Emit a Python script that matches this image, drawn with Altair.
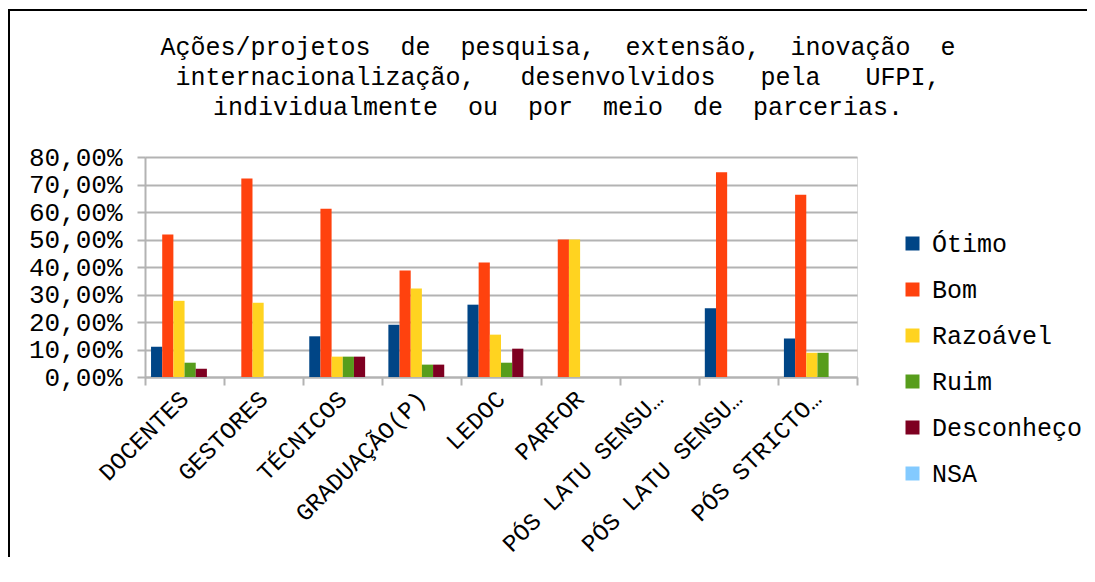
import altair as alt
import pandas as pd

categories = ["DOCENTES", "GESTORES", "TÉCNICOS", "GRADUAÇÃO(P)", "LEDOC", "PARFOR",
              "PÓS LATU SENSU (P)", "PÓS LATU SENSU (D)", "PÓS STRICTO SENSU"]
tick_labels = ["DOCENTES", "GESTORES", "TÉCNICOS", "GRADUAÇÃO(P)", "LEDOC", "PARFOR",
               "PÓS LATU SENSU…", "PÓS LATU SENSU…", "PÓS STRICTO…"]
series = ["Ótimo", "Bom", "Razoável", "Ruim", "Desconheço", "NSA"]
colors = ["#004586", "#ff420e", "#ffd320", "#579d1c", "#7e0021", "#83caff"]

otimo      = [11.0, 0.0, 14.8, 19.0, 26.3, 0.0, 0.0, 25.0, 14.0]
bom        = [51.8, 72.2, 61.2, 38.7, 41.6, 50.0, 0.0, 74.5, 66.3]
razoavel   = [27.7, 27.0, 7.4, 32.2, 15.4, 50.0, 0.0, 0.0, 8.8]
ruim       = [5.2, 0.0, 7.4, 4.5, 5.2, 0.0, 0.0, 0.0, 8.8]
desconheco = [3.0, 0.0, 7.4, 4.5, 10.3, 0.0, 0.0, 0.0, 0.0]
nsa        = [0.0, 0.0, 0.0, 0.0, 0.0, 0.0, 0.0, 0.0, 0.0]

NB = "\u00a0"
title_lines = [
    (NB * 2).join(["Ações/projetos", "de", "pesquisa,", "extensão,", "inovação", "e"]),
    (NB * 3).join(["internacionalização,", "desenvolvidos", "pela", "UFPI,"]),
    (NB * 2).join(["individualmente", "ou", "por", "meio", "de", "parcerias."]),
]

FONT = "Liberation Mono"
GRID = "#b3b3b3"

rows = []
for s, vals in zip(series, [otimo, bom, razoavel, ruim, desconheco, nsa]):
    for c, v in zip(categories, vals):
        if v > 0:
            rows.append({"cat": c, "serie": s, "val": v})
df = pd.DataFrame(rows)

label_expr = "datum.value"
for c, t in zip(categories, tick_labels):
    if c != t:
        label_expr = f"datum.value === '{c}' ? '{t}' : (" + label_expr + ")"

bars = alt.Chart(df).mark_bar().encode(
    x=alt.X("cat:N", sort=categories,
            scale=alt.Scale(domain=categories, paddingInner=0, paddingOuter=0),
            axis=alt.Axis(title=None, labelAngle=-45, labelAlign="right", labelBaseline="middle",
                          tickBand="extent", grid=False, labelFont=FONT, labelFontSize=24,
                          labelColor="#000000", labelPadding=10, labelExpr=label_expr,
                          labelLimit=400, domainColor=GRID, domainWidth=2, tickColor=GRID,
                          tickWidth=2, tickSize=8)),
    xOffset=alt.XOffset("serie:N", sort=series,
                        scale=alt.Scale(domain=series, paddingInner=0, paddingOuter=0.54)),
    y=alt.Y("val:Q", scale=alt.Scale(domain=[0, 80], nice=False),
            axis=alt.Axis(title=None, values=[0, 10, 20, 30, 40, 50, 60, 70, 80],
                          labelExpr="replace(format(datum.value, '.2f'), '.', ',') + '%'",
                          labelFont=FONT, labelFontSize=26, labelColor="#000000",
                          labelPadding=15, gridColor=GRID, gridWidth=2, domainColor=GRID,
                          domainWidth=2, tickColor=GRID, tickWidth=2, tickSize=8)),
    color=alt.Color("serie:N", sort=series,
                    scale=alt.Scale(domain=series, range=colors),
                    legend=alt.Legend(title=None, orient="none", legendX=755, legendY=74,
                                      symbolType="square", symbolSize=196, symbolStrokeWidth=0,
                                      symbolOpacity=1, labelFont=FONT, labelFontSize=25,
                                      labelColor="#000000", labelOffset=7, rowPadding=20,
                                      padding=0)),
)

frame_src = pd.DataFrame({"a": [0]})
frame_top = alt.Chart(frame_src).mark_rule(color="#000000", strokeWidth=2).encode(
    x=alt.value(-137), x2=alt.value(1000), y=alt.value(-147))
frame_left = alt.Chart(frame_src).mark_rule(color="#000000", strokeWidth=2).encode(
    x=alt.value(-136), y=alt.value(-148), y2=alt.value(400))

chart = alt.layer(frame_top, frame_left, bars).properties(
    width=712, height=220,
    autosize=alt.AutoSizeParams(type="none"),
    padding={"left": 137, "top": 149, "right": 230, "bottom": 185},
    title=alt.TitleParams(text=title_lines, font=FONT, fontSize=25, fontWeight="normal",
                          color="#000000", anchor="middle", dx=57, offset=-112, lineHeight=30),
).configure_view(stroke=GRID, strokeWidth=2).configure(background="white")

chart.save("out.html", embed_options={"renderer": "svg", "actions": False})
